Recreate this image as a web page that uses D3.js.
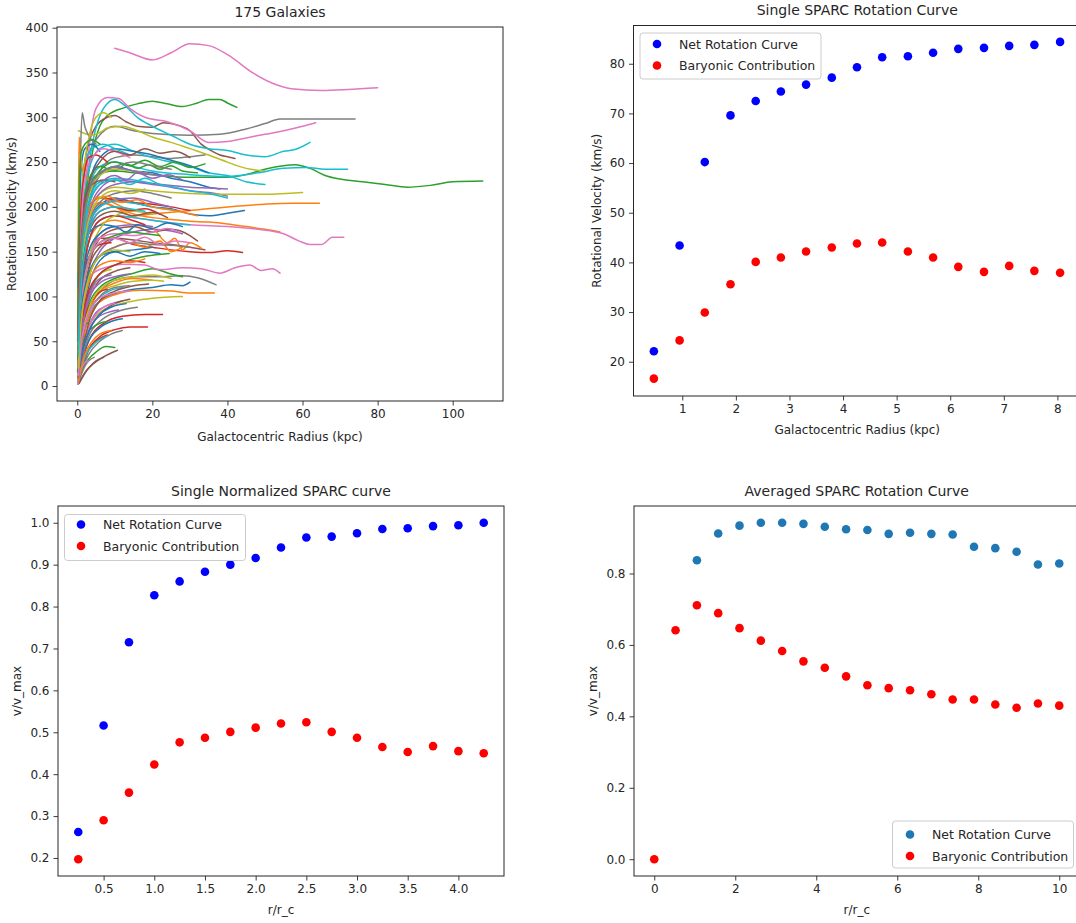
<!DOCTYPE html>
<html>
<head>
<meta charset="utf-8">
<script src="https://cdn.jsdelivr.net/npm/d3@7"></script>
<style>
  body { margin: 0; background: #fff; }
  text { font-family: "DejaVu Sans", sans-serif; fill: #262626; }
</style>
</head>
<body>
<svg id="fig" width="1076" height="923"></svg>
<script>
// ---------- Panel 1: rotation curves of the 175-galaxy sample, [radius kpc, velocity km/s] ----------
// Listed in groups of ten so that the tab10 colour cycle lands on the right curve.
const galaxyCurves = [
  // group 1
  [[0.3,20],[1,90],[2,150],[4,190],[7,205],[10,210],[15,205],[20,200],[25,198],[30,192],[35,190],[40,193],[44.5,196]],
  [[0.3,40],[1,120],[2,170],[4,195],[7,205],[10,200],[15,190],[20,192],[30,196],[40,200],[50,203],[57,204],[64.5,204]],
  [[0.5,90],[2,200],[4,260],[6,290],[8,302],[10,307],[12,310],[16,315],[20,318],[24,315],[28,312],[32,316],[35,320],[38,320],[40,316],[42.5,311]],
  [[0.3,30],[1,90],[3,140],[6,165],[10,165],[15,158],[20,155],[25,152],[30,150],[35,149],[40,151],[44,149]],
  [[0.3,40],[1,120],[3,190],[6,220],[10,230],[15,228],[20,225],[25,222],[30,218],[35,216],[40,212]],
  [[0.5,150],[2,250],[5,290],[8,300],[10,302],[13,295],[16,290],[20,289],[23,294],[27,291],[30,285],[33,270],[36,262],[38,258],[40,256],[42,254]],
  [[10,377],[14,372],[20,364],[25,372],[30,382],[35,380],[40,370],[47,349],[52,338],[57,332],[65,330],[72,331],[80,333]],
  [[0.5,150],[2,240],[5,275],[10,290],[15,285],[20,282],[30,280],[38,281],[45,287],[50,293],[54,298],[74,298]],
  [[0.3,50],[1,130],[3,190],[6,215],[10,222],[15,220],[20,218],[30,215],[40,214],[50,214],[60,216]],
  [[1,180],[4,270],[7,310],[10,320],[13,312],[16,300],[20,290],[25,280],[30,270],[35,265],[40,263],[45,258],[50,256],[55,262],[58,264],[62,272]],
  // group 2
  [[0.3,10],[1,40],[3,75],[6,95],[10,103],[15,108],[20,110],[25,113],[28,112],[30,116]],
  [[0.3,60],[1,140],[3,190],[6,205],[10,200],[15,192],[20,188],[25,186],[30,184],[35,183],[40,181],[45,178],[50,175],[54,172]],
  [[0.5,130],[2,210],[5,235],[10,240],[15,238],[20,236],[30,233],[40,233],[45,236],[50,242],[55,246],[58,247],[62,243],[66,235],[70,231],[76,228],[82,225],[88,222],[94,224],[100,228],[108,229]],
  [[0.5,10],[3,50],[7,70],[12,78],[18,80],[22.7,80]],
  [[0.3,20],[1,70],[3,120],[6,150],[10,165],[15,172],[20,175],[25,173],[28,170]],
  [[0.5,3],[3,20],[6,30],[10.7,40]],
  [[1,150],[3,260],[5,310],[8,322],[11,321],[14,310],[18,300],[24,295],[30,285],[35,272],[40,273],[45,277],[50,281],[55,285],[60,290],[63.5,294]],
  [[0.5,30],[3,85],[6,105],[10,118],[15,122],[22,122],[28,123],[32,121],[37,113]],
  [[0.3,285],[2,282],[4,280],[6,283],[8,288],[12,290],[16,285],[20,278],[25,272],[30,265],[35,258],[40,250],[45,243],[50,240]],
  [[1,150],[3,220],[6,245],[10,250],[15,245],[20,240],[30,236],[40,234],[48,238],[55,243],[61,244],[66,242],[72,242]],
  // group 3
  [[0.3,50],[1,130],[3,200],[6,235],[10,245],[15,240],[20,238],[25,232],[30,228],[35,222],[38,220]],
  [[0.5,20],[2,60],[5,90],[10,102],[17,107],[25,106],[30,104],[36.5,104]],
  [[0.3,15],[1,50],[3,90],[6,110],[10,120],[15,126],[20,131],[25,125],[28,122]],
  [[0.5,8],[3,40],[6,55],[10,63],[14,66],[18.7,66]],
  [[0.3,5],[1,30],[3,65],[5,82],[8,90],[12,95]],
  [[0.3,30],[1,80],[3,130],[6,155],[10,165],[15,163],[20,160],[25,158],[30,155],[34,152]],
  [[1,100],[3,160],[6,185],[10,190],[20,185],[30,180],[40,178],[48,175],[55,170],[59,162],[62,158],[65,158],[68,166],[71,166]],
  [[0.3,40],[1,120],[3,200],[6,240],[10,255],[15,258],[20,256],[25,254],[30,256],[34,258]],
  [[0.3,10],[1,35],[3,65],[6,82],[10,90],[15,95],[20,98],[28,100]],
  [[0.3,60],[1,160],[3,240],[6,265],[10,270],[15,262],[20,255],[25,250],[30,245],[35,238],[40,235],[45,228],[50,225]],
  // group 4
  [[0.3,60],[1,150],[3,220],[6,255],[10,265],[15,262],[20,258],[25,252],[30,246],[35,238]],
  [[0.3,10],[1,40],[3,80],[6,105],[10,115],[15,120],[20,118]],
  [[0.3,70],[1,170],[3,230],[6,245],[10,240],[13,248],[16,243],[19,247],[22,242],[25,246],[28,240],[32,238]],
  [[0.3,50],[1,140],[3,200],[6,210],[10,208],[15,205],[20,203],[25,200],[30,196]],
  [[0.3,40],[1,110],[3,175],[6,200],[10,208],[15,210],[20,205],[25,200]],
  [[0.3,20],[1,70],[3,130],[6,165],[10,175],[15,178],[20,172],[25,175],[30,168],[32,162]],
  [[0.5,40],[2,100],[4,125],[8,133],[12,136],[18,135],[22,130],[28,132],[33,131],[38,126],[42,132],[46,135],[49,129],[52,131],[54,126]],
  [[0.3,3],[1,15],[3,35],[6,50],[9,58],[12,62]],
  [[0.3,15],[1,50],[3,85],[6,105],[10,112],[15,117],[20,118],[23,117]],
  [[0.3,15],[1,50],[3,80],[5,95],[8,105],[12,110]],
  // group 5
  [[0.3,5],[1,25],[3,50],[6,65],[9,72],[12,75]],
  [[0.3,30],[1,100],[3,160],[6,180],[10,185],[15,180],[20,176],[24,160],[26,165],[28,152],[30,160],[33,154]],
  [[0.3,5],[1,15],[3,30],[5,38],[7.6,44],[10,43]],
  [[0.3,5],[1,20],[3,40],[5,50],[8,57]],
  [[0.3,20],[1,80],[3,140],[6,170],[10,178],[15,180],[20,178]],
  [[0.3,8],[1,30],[3,60],[6,80],[10,92],[14,97]],
  [[0.3,20],[1,80],[3,140],[6,165],[10,170],[15,168],[20,172],[24,176],[27,172]],
  [[0.3,5],[1,25],[3,55],[6,72],[10,82],[16,88]],
  [[0.3,10],[1,45],[2,80],[4,110],[6,125],[9,130]],
  [[0.3,30],[1,100],[3,160],[6,185],[10,190],[15,188],[20,185],[25,182],[30,180]],
  // group 6
  [[0.3,15],[1,60],[3,110],[6,140],[10,150],[15,152],[20,155]],
  [[0.3,40],[1,130],[2,180],[4,205],[6,210],[8,208],[12,200],[16,195]],
  [[0.3,10],[1,35],[2,55],[4,65],[6,70],[8,72]],
  [[0.3,30],[1,100],[3,160],[6,185],[10,190],[14,186],[18,180]],
  [[0.3,8],[1,30],[3,60],[5,75],[8,82],[11,85]],
  [[0.3,10],[1,50],[3,95],[6,118],[10,128],[14,132]],
  [[0.3,6],[1,30],[3,65],[5,80],[8,90],[10,92]],
  [[0.2,120],[0.8,250],[1.3,305],[2,290],[3,280],[5,270]],
  [[0.3,60],[1,150],[3,210],[6,235],[10,242],[15,240],[20,236]],
  [[0.3,80],[1,200],[2,250],[4,265],[7,270],[10,265],[14,258]],
  // group 7
  [[0.2,100],[0.6,200],[1.2,250],[2,265],[4,270],[6,262]],
  [[0.1,60],[0.3,200],[0.5,278],[0.8,260],[1.5,240],[3,230],[5,225]],
  [[0.3,15],[1,55],[3,100],[6,125],[10,135],[15,142],[20,146],[24.5,148]],
  [[0.3,10],[1,45],[2,75],[4,95],[6,105],[8,108]],
  [[0.3,40],[1,120],[3,190],[6,215],[10,225],[15,228],[20,226],[25,224],[30,222],[35,221],[40,220]],
  [[0.2,2],[1,8],[2,15],[3.5,22],[5,28],[7,32]],
  [[0.3,10],[1,50],[2,85],[3.5,105],[5,112]],
  [[0.2,3],[1,12],[2,22],[3,28],[4.5,32]],
  [[0.3,100],[1,200],[2,250],[3.5,285],[5,300],[7,305],[9,300]],
  [[0.2,4],[1,18],[2,32],[4,45],[6,52],[8,56]],
  // group 8
  [[0.2,110],[0.5,135],[1,145],[2,160],[4,175],[7,180],[10,178]],
  [[0.3,20],[1,70],[3,120],[6,145],[10,155],[14,160],[18,155],[22,162],[25,150],[28,155]],
  [[0.1,15],[0.3,45],[0.7,60],[1.5,68],[3,70]],
  [[0.3,30],[1,90],[2,130],[4,150],[6,158],[9,160]],
  [[0.3,60],[1,160],[3,220],[6,238],[10,244],[15,240],[20,236],[24,234]],
  [[0.3,8],[1,30],[3,70],[6,95],[10,106],[15,112],[19,114]],
  [[0.2,3],[0.6,12],[1.2,20],[2,26],[3,28]],
  [[0.3,20],[1,70],[3,120],[6,145],[10,155],[15,160],[20,158],[26,157],[30,155]],
  [[0.3,12],[1,45],[3,85],[6,108],[10,118],[15,122],[20,124],[25,120]],
  [[0.3,50],[1,140],[3,205],[6,228],[10,232],[15,230],[20,226]],
  // group 9
  [[0.3,8],[1,30],[3,60],[6,80],[9,88],[13,92]],
  [[0.3,5],[1,20],[2,35],[4,50],[6,58],[9,62]],
  [[0.1,50],[0.3,150],[0.6,230],[1,260],[2,270],[4,275],[6,270]],
  [[0.2,40],[0.6,140],[1,200],[2,240],[3,255],[5,258],[8,250]],
  [[0.3,12],[1,50],[2,85],[4,110],[6,120],[9,124]],
  [[0.2,50],[0.5,130],[1,180],[2,210],[4,225],[7,230],[10,228]],
  [[0.3,60],[1,170],[2,230],[4,255],[7,265],[10,262],[14,255]],
  [[0.3,40],[1,120],[3,180],[6,205],[10,215],[15,218],[20,215],[25,210]],
  [[0.3,25],[1,80],[3,140],[6,175],[10,190],[15,195],[20,192]],
  [[0.3,40],[1,120],[3,180],[6,200],[10,206],[15,204],[20,200],[26,196]],
  // group 10
  [[0.3,30],[1,95],[3,150],[6,170],[10,178],[13,172],[16,180],[20,176],[24,182],[28,178]],
  [[0.3,45],[1,140],[3,195],[5,210],[8,212],[12,205],[16,208],[20,200],[26,196],[32,190]],
  [[0.3,30],[1,90],[3,140],[6,160],[10,168],[14,172],[18,170],[22,168]],
  [[0.3,15],[1,60],[3,105],[6,125],[10,135],[14,140],[18,138]],
  [[0.3,50],[1,140],[3,200],[6,225],[10,235],[13,230],[16,238],[20,232],[24,236],[28,230]],
  [[0.3,60],[1,160],[3,225],[6,250],[10,262],[14,258],[18,265],[22,260],[26,262],[30,255]],
  [[0.3,25],[1,85],[3,140],[6,160],[10,165],[14,160],[18,166],[22,158],[26,162],[30,160]],
  [[0.3,10],[1,40],[3,80],[6,100],[10,110],[14,112]],
  [[0.3,40],[1,120],[3,185],[6,210],[10,218],[14,215],[18,220]],
  [[0.3,45],[1,130],[3,200],[6,225],[10,230],[14,225],[18,232],[22,225],[26,222],[30,218],[35,215],[40,210]],
  // group 11
  [[0.3,25],[1,80],[3,125],[6,145],[10,150],[14,145],[18,150],[22,148]],
  [[0.3,20],[1,70],[3,115],[6,135],[10,140],[14,138],[18,142]],
  [[0.3,50],[1,150],[3,215],[6,240],[10,250],[14,246],[18,252],[22,245],[26,250],[30,244],[34,248]],
  [[0.3,35],[1,110],[3,170],[6,195],[10,200],[14,196],[18,198],[22,192]],
  [[0.3,15],[1,55],[3,95],[6,115],[10,122],[14,125]],
  [[0.3,40],[1,110],[3,170],[6,190],[10,195],[15,190],[20,194],[24,188]],
  [[0.3,12],[1,45],[3,80],[6,98],[10,104],[14,106]],
  [[0.3,55],[1,150],[3,215],[6,238],[10,245],[15,250],[20,246],[25,242]],
  [[0.3,20],[1,70],[3,120],[6,145],[10,152],[14,150]],
  [[0.3,35],[1,110],[3,170],[6,195],[10,200],[14,198],[18,195]]
];
const galaxyXTicks = [0, 20, 40, 60, 80, 100];
const galaxyYTicks = [0, 50, 100, 150, 200, 250, 300, 350, 400];

// ---------- Panel 2: one galaxy, kpc vs km/s ----------
const singleRadius = [0.47, 0.95, 1.42, 1.90, 2.37, 2.84, 3.31, 3.79, 4.26, 4.73, 5.21, 5.68, 6.15, 6.63, 7.10, 7.57, 8.05];
const singleNet    = [22.1, 43.4, 60.2, 69.6, 72.5, 74.4, 75.8, 77.2, 79.3, 81.3, 81.5, 82.2, 83.0, 83.2, 83.6, 83.8, 84.4];
const singleBaryon = [16.6, 24.3, 29.9, 35.6, 40.1, 41.0, 42.2, 43.0, 43.8, 44.0, 42.2, 41.0, 39.1, 38.1, 39.3, 38.3, 37.9];
const singleXTicks = [1, 2, 3, 4, 5, 6, 7, 8];
const singleYTicks = [20, 30, 40, 50, 60, 70, 80];

// ---------- Panel 3: same galaxy, normalised ----------
const normRadius = [0.25, 0.5, 0.75, 1.0, 1.25, 1.5, 1.75, 2.0, 2.25, 2.5, 2.75, 3.0, 3.25, 3.5, 3.75, 4.0, 4.25];
const normNet    = [0.262, 0.516, 0.715, 0.827, 0.860, 0.883, 0.900, 0.916, 0.941, 0.965, 0.967, 0.975, 0.985, 0.987, 0.992, 0.994, 1.000];
const normBaryon = [0.197, 0.290, 0.356, 0.423, 0.476, 0.487, 0.501, 0.511, 0.521, 0.524, 0.501, 0.487, 0.465, 0.453, 0.467, 0.455, 0.450];
const normXTicks = [0.5, 1.0, 1.5, 2.0, 2.5, 3.0, 3.5, 4.0];
const normYTicks = [0.2, 0.3, 0.4, 0.5, 0.6, 0.7, 0.8, 0.9, 1.0];

// ---------- Panel 4: sample average, normalised ----------
const avgRadius = [0, 0.526, 1.053, 1.579, 2.105, 2.632, 3.158, 3.684, 4.211, 4.737, 5.263, 5.789, 6.316, 6.842, 7.368, 7.895, 8.421, 8.947, 9.474, 10];
const avgNet    = [null, null, 0.837, 0.912, 0.934, 0.942, 0.942, 0.939, 0.931, 0.924, 0.922, 0.911, 0.914, 0.911, 0.909, 0.875, 0.871, 0.861, 0.825, 0.828];
const avgBaryon = [0.0, 0.641, 0.711, 0.689, 0.647, 0.612, 0.583, 0.554, 0.536, 0.512, 0.487, 0.479, 0.473, 0.462, 0.447, 0.447, 0.433, 0.424, 0.436, 0.430];
const avgXTicks = [0, 2, 4, 6, 8, 10];
const avgYTicks = [0.0, 0.2, 0.4, 0.6, 0.8];

const legendLabels = ["Net Rotation Curve", "Baryonic Contribution"];

// ---------- drawing ----------
const svg = d3.select("#fig");
const ink = "#262626";
let clipCount = 0;

function makePanel(o) {
  const x = d3.scaleLinear().domain(o.xDomain).range([o.left, o.right]);
  const y = d3.scaleLinear().domain(o.yDomain).range([o.bottom, o.top]);
  const g = svg.append("g");
  const clipId = "clip" + (clipCount++);
  g.append("clipPath").attr("id", clipId).append("rect")
    .attr("x", o.left).attr("y", o.top)
    .attr("width", o.right - o.left).attr("height", o.bottom - o.top);
  const plot = g.append("g").attr("clip-path", `url(#${clipId})`);

  const xAxis = d3.axisBottom(x).tickValues(o.xTicks).tickFormat(o.xFmt).tickSize(4.5).tickPadding(4);
  const yAxis = d3.axisLeft(y).tickValues(o.yTicks).tickFormat(o.yFmt).tickSize(4.5).tickPadding(4);
  const gx = g.append("g").attr("transform", `translate(0,${o.bottom})`).call(xAxis);
  const gy = g.append("g").attr("transform", `translate(${o.left},0)`).call(yAxis);
  [gx, gy].forEach(a => {
    a.select(".domain").remove();
    a.selectAll(".tick line").attr("stroke", ink).attr("stroke-width", 0.9);
    a.selectAll(".tick text").attr("font-size", 12).attr("font-family", "DejaVu Sans").style("fill", ink);
  });

  g.append("text").attr("x", (o.left + o.right) / 2).attr("y", o.titleY)
    .attr("text-anchor", "middle").attr("font-size", 14).text(o.title);
  g.append("text").attr("x", (o.left + o.right) / 2).attr("y", o.bottom + o.xLabelGap)
    .attr("text-anchor", "middle").attr("font-size", 12).text(o.xLabel);
  g.append("text")
    .attr("transform", `translate(${o.yLabelX},${(o.top + o.bottom) / 2}) rotate(-90)`)
    .attr("text-anchor", "middle").attr("font-size", 12).text(o.yLabel);

  const frame = () => g.append("rect")
    .attr("x", o.left).attr("y", o.top)
    .attr("width", o.right - o.left).attr("height", o.bottom - o.top)
    .attr("fill", "none").attr("stroke", ink).attr("stroke-width", 1);
  return { x, y, g, plot, frame };
}

function drawLegend(g, box, marker, colors) {
  g.append("rect").attr("x", box[0]).attr("y", box[1])
    .attr("width", box[2]).attr("height", box[3]).attr("rx", 3)
    .attr("fill", "#fff").attr("fill-opacity", 0.8)
    .attr("stroke", "#cccccc").attr("stroke-width", 1);
  legendLabels.forEach((lab, i) => {
    const cy = marker[1] + i * marker[2];
    g.append("circle").attr("cx", marker[0]).attr("cy", cy).attr("r", 4.3).attr("fill", colors[i]);
    g.append("text").attr("x", marker[0] + 22).attr("y", cy + 4.5)
      .attr("font-size", 12.5).text(lab);
  });
}

function scatter(p, xs, ys, color) {
  p.plot.selectAll(null)
    .data(xs.map((v, i) => [v, ys[i]]).filter(d => d[1] !== null))
    .join("circle")
    .attr("cx", d => p.x(d[0])).attr("cy", d => p.y(d[1]))
    .attr("r", 4.3).attr("fill", color);
}

// Panel 1
const p1 = makePanel({
  left: 57, right: 503, top: 27, bottom: 401,
  xDomain: [-5.4, 113.4], yDomain: [-16.7, 400.8],
  xTicks: galaxyXTicks, yTicks: galaxyYTicks, xFmt: d3.format("d"), yFmt: d3.format("d"),
  title: "175 Galaxies", titleY: 17,
  xLabel: "Galactocentric Radius (kpc)", xLabelGap: 40,
  yLabel: "Rotational Velocity (km/s)", yLabelX: 16
});
const palette = d3.schemeCategory10;
const line1 = d3.line().x(d => p1.x(d[0])).y(d => p1.y(d[1])).curve(d3.curveMonotoneX);
p1.plot.selectAll(null).data(galaxyCurves).join("path")
  .attr("d", line1).attr("fill", "none")
  .attr("stroke", (d, i) => palette[i % 10])
  .attr("stroke-width", 1.5).attr("stroke-linejoin", "round").attr("stroke-linecap", "round");
p1.frame();

// Panel 2
const p2 = makePanel({
  left: 633.5, right: 1081, top: 25.5, bottom: 396,
  xDomain: [0.09, 8.44], yDomain: [13.1, 87.7],
  xTicks: singleXTicks, yTicks: singleYTicks, xFmt: d3.format("d"), yFmt: d3.format("d"),
  title: "Single SPARC Rotation Curve", titleY: 15,
  xLabel: "Galactocentric Radius (kpc)", xLabelGap: 38,
  yLabel: "Rotational Velocity (km/s)", yLabelX: 601
});
scatter(p2, singleRadius, singleNet, "#0000ff");
scatter(p2, singleRadius, singleBaryon, "#ff0000");
p2.frame();
drawLegend(p2.g, [640, 33, 181, 46], [657, 44, 21.5], ["#0000ff", "#ff0000"]);

// Panel 3
const p3 = makePanel({
  left: 58, right: 504, top: 506, bottom: 876,
  xDomain: [0.05, 4.45], yDomain: [0.157, 1.04],
  xTicks: normXTicks, yTicks: normYTicks, xFmt: d3.format(".1f"), yFmt: d3.format(".1f"),
  title: "Single Normalized SPARC curve", titleY: 496,
  xLabel: "r/r_c", xLabelGap: 38,
  yLabel: "v/v_max", yLabelX: 21
});
scatter(p3, normRadius, normNet, "#0000ff");
scatter(p3, normRadius, normBaryon, "#ff0000");
p3.frame();
drawLegend(p3.g, [64.5, 514.5, 181, 46], [81, 524.5, 21.5], ["#0000ff", "#ff0000"]);

// Panel 4
const p4 = makePanel({
  left: 634, right: 1079.5, top: 506, bottom: 876,
  xDomain: [-0.5, 10.5], yDomain: [-0.047, 0.989],
  xTicks: avgXTicks, yTicks: avgYTicks, xFmt: d3.format("d"), yFmt: d3.format(".1f"),
  title: "Averaged SPARC Rotation Curve", titleY: 496,
  xLabel: "r/r_c", xLabelGap: 38,
  yLabel: "v/v_max", yLabelX: 597
});
scatter(p4, avgRadius, avgNet, "#1f77b4");
scatter(p4, avgRadius, avgBaryon, "#ff0000");
p4.frame();
drawLegend(p4.g, [892.5, 821, 181, 47], [910, 834.5, 21.5], ["#1f77b4", "#ff0000"]);
</script>
</body>
</html>
